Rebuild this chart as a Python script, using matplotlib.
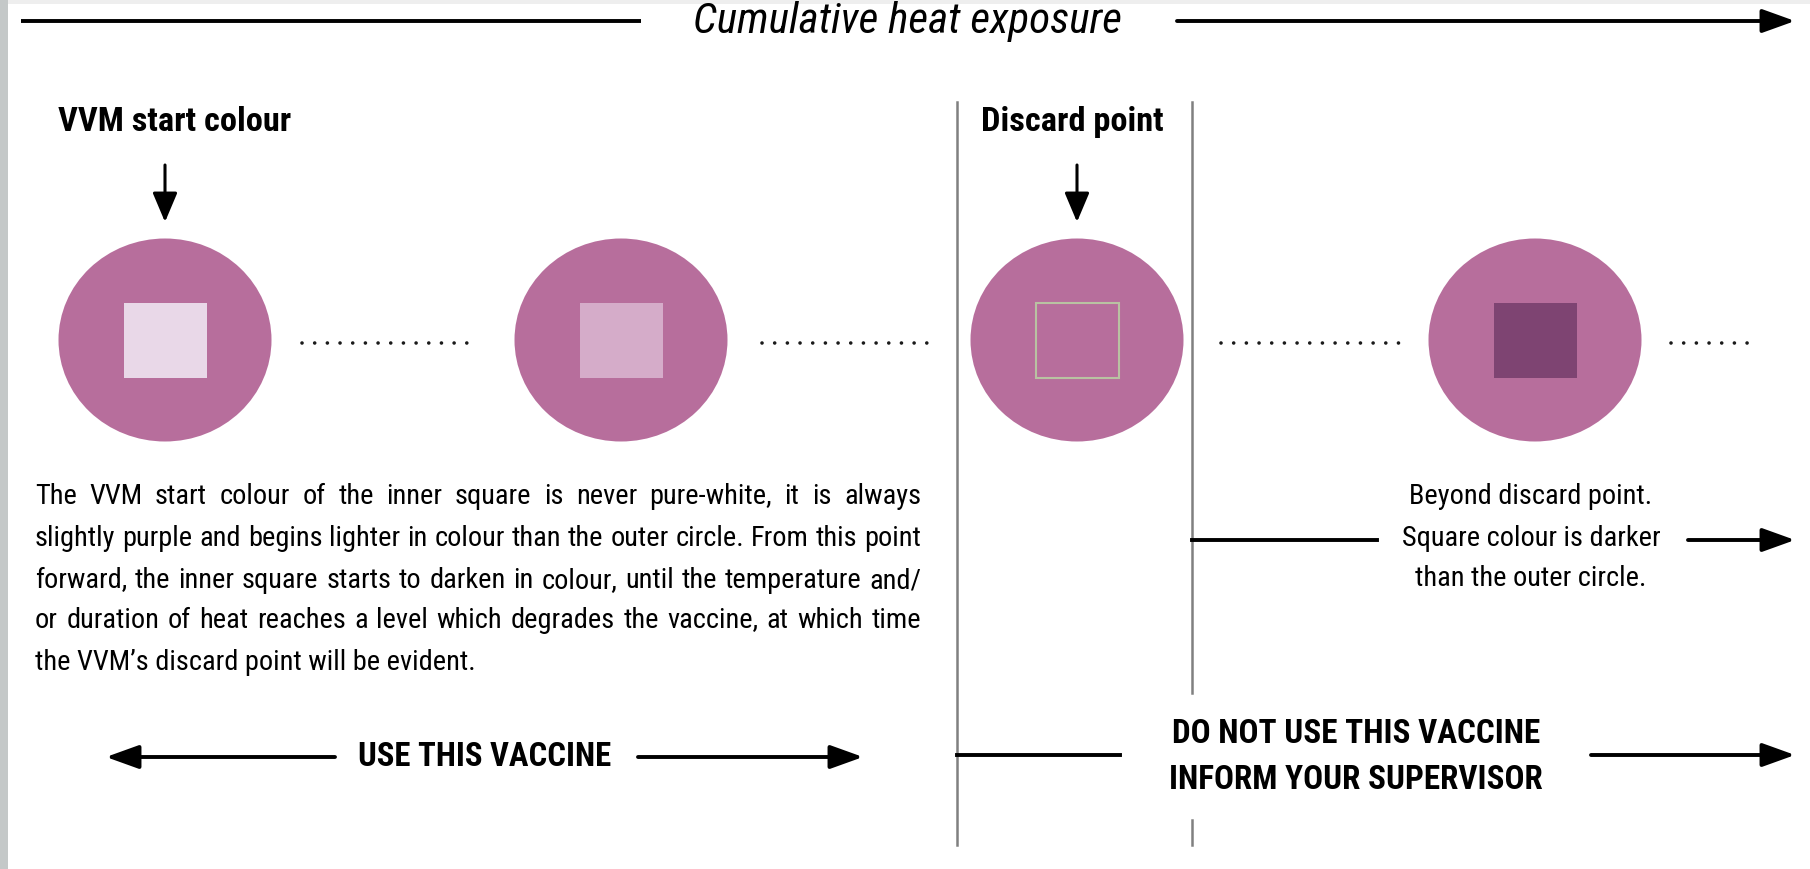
import matplotlib
matplotlib.use('Agg')
import matplotlib.pyplot as plt
from matplotlib.patches import Ellipse, Rectangle
from matplotlib.font_manager import FontProperties, findfont

# pick a narrow font if there is one
def font_ok(name):
    try:
        findfont(FontProperties(family=name), fallback_to_default=False)
        return True
    except Exception:
        return False

narrow = 'DejaVu Sans'
for name in ['Liberation Sans Narrow', 'Roboto Condensed', 'Open Sans Condensed', 'Liberation Sans']:
    if font_ok(name):
        narrow = name
        break

# diagram content
title = 'Cumulative heat exposure'
stage_labels = ['VVM start colour', '', 'Discard point', '']
square_fill = ['#E9D8E8', '#D5ACC9', '#B76E9C', '#7E4472']
square_edge = ['none', 'none', '#B9C2A2', 'none']
circle_colour = '#B76E9C'
para_lines = [
    'The VVM start colour of the inner square is never pure-white, it is always',
    'slightly purple and begins lighter in colour than the outer circle. From this point',
    'forward, the inner square starts to darken in colour, until the temperature and/',
    'or duration of heat reaches a level which degrades the vaccine, at which time',
    "the VVM\u2019s discard point will be evident.",
]
beyond_lines = ['Beyond discard point.', 'Square colour is darker', 'than the outer circle.']
use_label = 'USE THIS VACCINE'
dont_lines = ['DO NOT USE THIS VACCINE', 'INFORM YOUR SUPERVISOR']

# layout (pixels of the output image)
W, H = 1810, 869
stage_x = [165, 621, 1077, 1535]
stage_y = 340

fig = plt.figure(figsize=(W / 100, H / 100), dpi=100)
ax = fig.add_axes([0, 0, 1, 1])
ax.set_xlim(0, W)
ax.set_ylim(H, 0)
ax.axis('off')
renderer = fig.canvas.get_renderer()

# screenshot frame
ax.add_patch(Rectangle((0, 0), W, 4, color='#EEEEEE', lw=0))
ax.add_patch(Rectangle((0, 0), 8, H, color='#C4C8C8', lw=0))


def width_of(t):
    return t.get_window_extent(renderer).width


def fit(t, width):
    t.set_fontsize(t.get_fontsize() * width / width_of(t))
    return t.get_fontsize()


def arrow(x0, y0, x1, y1, hl=1.0, hw=0.36, lw=2.8):
    ax.annotate('', xy=(x1, y1), xytext=(x0, y0),
                arrowprops=dict(arrowstyle='-|>,head_length=%s,head_width=%s' % (hl, hw),
                                lw=lw, color='black', shrinkA=0, shrinkB=0,
                                mutation_scale=20))


# top axis
ax.plot([21, 641], [21, 21], color='black', lw=2.8, solid_capstyle='butt')
t = ax.text(907, 21, title, ha='center', va='center', style='italic', family=narrow, fontsize=20)
fit(t, 429)
arrow(1177, 21, 1795, 21)

# vertical separators
ax.plot([957, 957], [102, 845], color='#808080', lw=1.8)
ax.plot([1192, 1192], [102, 693], color='#808080', lw=1.8)
ax.plot([1192, 1192], [820, 845], color='#808080', lw=1.8)

# headings and down arrows
t = ax.text(58, 122, stage_labels[0], ha='left', va='center', weight='bold', family=narrow, fontsize=20)
fs = fit(t, 233)
ax.text(981, 122, stage_labels[2], ha='left', va='center', weight='bold', family=narrow, fontsize=fs)
for i in [0, 2]:
    arrow(stage_x[i], 165, stage_x[i], 222, hl=0.9, hw=0.38, lw=2.2)

# VVM stages
for x, fc, ec in zip(stage_x, square_fill, square_edge):
    ax.add_patch(Ellipse((x, stage_y), 213, 203, color=circle_colour, lw=0))
    ax.add_patch(Rectangle((x - 41, stage_y - 37), 83, 75, facecolor=fc, edgecolor=ec, lw=1.5))

# dotted links
for x0, x1 in [(302, 479), (762, 937), (1221, 1399), (1671, 1757)]:
    ax.plot([x0, x1], [343, 343], color='#1A1A1A', lw=2.6,
            linestyle=(0, (0.01, 3.5)), dash_capstyle='round')

# justified paragraph: size set by the widest line
probe = [ax.text(0, 0, s, family=narrow, fontsize=18) for s in para_lines[:-1]]
fs = 18 * 880 / max(width_of(p) for p in probe)
for p in probe:
    p.remove()
line_y = [496, 539, 581, 620, 663]
for k, (line, y) in enumerate(zip(para_lines, line_y)):
    words = line.split(' ')
    if k == len(para_lines) - 1:
        ax.text(35, y, line, ha='left', va='center', family=narrow, fontsize=fs)
        continue
    texts = [ax.text(0, y, w, ha='left', va='center', family=narrow, fontsize=fs) for w in words]
    widths = [width_of(tt) for tt in texts]
    gap = (886 - sum(widths)) / (len(words) - 1)
    x = 35
    for tt, w in zip(texts, widths):
        tt.set_x(x)
        x += w + gap

# beyond discard point
t = ax.text(1531, 539, beyond_lines[1], ha='center', va='center', family=narrow, fontsize=18)
fs = fit(t, 259)
ax.text(1531, 496, beyond_lines[0], ha='center', va='center', family=narrow, fontsize=fs)
ax.text(1531, 578, beyond_lines[2], ha='center', va='center', family=narrow, fontsize=fs)
ax.plot([1192, 1377], [540, 540], color='black', lw=2.8)
arrow(1688, 540, 1795, 540)

# bottom labels
t = ax.text(485, 757, use_label, ha='center', va='center', weight='bold', family=narrow, fontsize=22)
fs = fit(t, 252)
arrow(335, 757, 106, 757)
arrow(638, 757, 863, 757)
t = ax.text(1356, 734, dont_lines[0], ha='center', va='center', weight='bold', family=narrow, fontsize=fs)
fit(t, 369)
ax.text(1356, 780, dont_lines[1], ha='center', va='center', weight='bold', family=narrow, fontsize=t.get_fontsize())
ax.plot([957, 1120], [755, 755], color='black', lw=2.8)
arrow(1591, 755, 1795, 755)

fig.savefig('out.png', dpi=100)
